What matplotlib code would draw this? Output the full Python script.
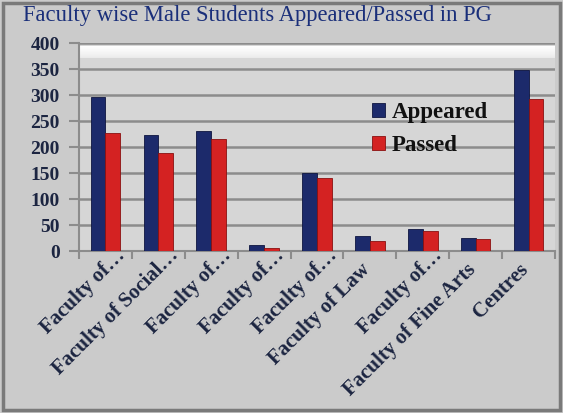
import numpy as np
import matplotlib.pyplot as plt
import matplotlib.transforms as mtransforms
from matplotlib.patches import Rectangle

categories = ["Faculty of…", "Faculty of Social…", "Faculty of…", "Faculty of…",
              "Faculty of…", "Faculty of Law", "Faculty of…",
              "Faculty of Fine Arts", "Centres"]
appeared = [296, 224, 231, 11, 150, 29, 42, 25, 349]
passed = [227, 189, 216, 6, 141, 20, 38, 23, 293]

navy = "#1c2a6b"
red = "#d42222"
txt = "#1c2541"

plt.rcParams["font.family"] = ["Liberation Serif", "DejaVu Serif"]

fig = plt.figure(figsize=(5.63, 4.13), dpi=100, facecolor="#cbcbcb")
W, H = 563, 413

# bevelled frame
frame = Rectangle((0.006, 0.008), 0.988, 0.984, transform=fig.transFigure,
                  facecolor="none", edgecolor="#7a7a7a", linewidth=2.5, zorder=-5)
fig.patches.append(frame)

fig.text(23 / W, 1 - 16 / H, "Faculty wise Male Students Appeared/Passed in PG",
         fontsize=16.3, color="#1a2f7a", va="center", ha="left")

left, right, top, bottom = 79, 555, 43, 251
ax = fig.add_axes([left / W, 1 - bottom / H, (right - left) / W, (bottom - top) / H])
ax.set_facecolor("#d6d6d6")

# light bevel along the top of the back wall (white at top, fading down)
grad = np.linspace(0, 1, 50).reshape(-1, 1)
ax.imshow(grad, extent=[0, 1, 0.93, 0.985], transform=ax.transAxes, aspect="auto",
          origin="lower", cmap="Greys_r", vmin=-5.25, vmax=1.0, zorder=0.5)

x = np.arange(len(categories))
w = 0.28
ax.bar(x - w / 2, appeared, w, color=navy, edgecolor="#0e1540", linewidth=0.6,
       label="Appeared", zorder=3)
ax.bar(x + w / 2, passed, w, color=red, edgecolor="#8a1010", linewidth=0.6,
       label="Passed", zorder=3)

ax.set_xlim(-0.5, len(categories) - 0.5)
ax.set_ylim(0, 400)
ax.set_yticks(np.arange(0, 401, 50))
ax.yaxis.grid(True, color="#8c8c8c", linewidth=1.8, zorder=0)
ax.set_axisbelow(True)
for lab in ax.get_yticklabels():
    lab.set_fontweight("bold")
ax.tick_params(axis="y", labelsize=14, labelcolor=txt, color="#8c8c8c",
               length=7, width=1.5, pad=7)

# category labels; boundary tick marks as minor ticks
ax.set_xticks(x)
ax.set_xticks(np.arange(len(categories) + 1) - 0.5, minor=True)
ax.set_xticklabels(categories, rotation=45, ha="right", fontsize=15,
                   fontweight="bold", color=txt)
ax.tick_params(axis="x", which="major", length=0, pad=6)
ax.tick_params(axis="x", which="minor", length=6, width=1.5, color="#8c8c8c")
for lab in ax.get_xticklabels():
    dx, dy = 4, 0
    if lab.get_text().endswith("…"):
        dx, dy = 24, 14
    lab.set_transform(lab.get_transform() +
                      mtransforms.ScaledTranslation(dx / 100, dy / 100, fig.dpi_scale_trans))

for s in ["top", "right"]:
    ax.spines[s].set_visible(False)
ax.spines["left"].set_color("#8c8c8c")
ax.spines["left"].set_linewidth(1.5)
ax.spines["bottom"].set_color("#8c8c8c")
ax.spines["bottom"].set_linewidth(1.5)

leg = ax.legend(loc="center left", bbox_to_anchor=(372 / W, 1 - 129 / H),
                bbox_transform=fig.transFigure, frameon=False, borderpad=0,
                borderaxespad=0, prop={"weight": "bold", "size": 16.5},
                handlelength=0.55, handleheight=0.55, handletextpad=0.3,
                labelspacing=0.5)
for t in leg.get_texts():
    t.set_color("#111111")

fig.savefig("out.png", dpi=100, facecolor=fig.get_facecolor())
